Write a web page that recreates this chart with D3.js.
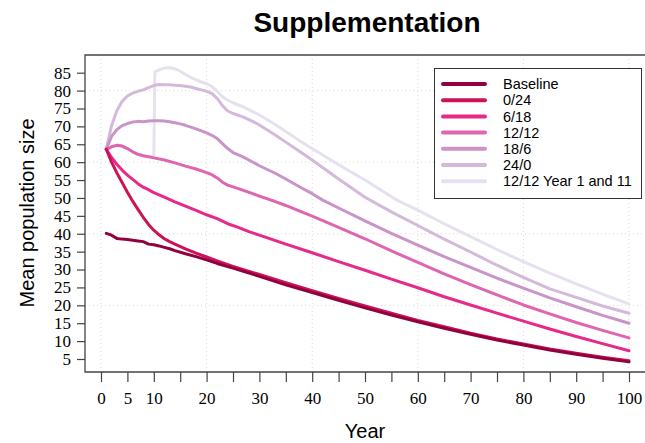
<!DOCTYPE html>
<html>
<head>
<meta charset="utf-8">
<script src="https://cdn.jsdelivr.net/npm/d3@7"></script>
<style>
  body { margin: 0; background: #fff; }
  svg text { fill: #000; }
  .tick-label { font-family: "Liberation Serif", "Times New Roman", serif; font-size: 17px; }
  .axis-title { font-family: "Liberation Sans", Arial, sans-serif; font-size: 20px; }
  .legend-text { font-family: "Liberation Sans", Arial, sans-serif; font-size: 14.5px; }
</style>
</head>
<body>
<div class="container"></div>
<script>
// series: [year, mean population size]
var baseline = [[1,40.1],[2,39.6],[3,38.7],[4,38.5],[5,38.4],[6,38.2],[7,38],[8,37.8],[9,37.1],[10,36.9],[11,36.6],[12,36.2],[13,35.8],[14,35.3],[16,34.4],[18,33.6],[20,32.7],[22,31.7],[25,30.4],[30,28.1],[35,25.7],[40,23.6],[45,21.4],[50,19.3],[55,17.3],[60,15.4],[65,13.6],[70,11.9],[75,10.3],[80,8.9],[85,7.5],[90,6.3],[95,5.2],[100,4.2]];
var s0_24 = [[1,63.6],[2,60],[3,57],[4,54.3],[5,51.6],[6,49.1],[7,46.8],[8,44.6],[9,42.6],[10,41],[11,39.7],[12,38.6],[13,37.8],[14,37.1],[16,35.8],[18,34.6],[20,33.5],[22,32.4],[25,30.9],[30,28.6],[35,26.3],[40,24.1],[45,21.9],[50,19.8],[55,17.8],[60,15.8],[65,14],[70,12.2],[75,10.6],[80,9.2],[85,7.8],[90,6.6],[95,5.5],[100,4.5]];
var s6_18 = [[1,63.6],[2,61.3],[3,59.4],[4,57.8],[5,56.4],[6,55.2],[7,54],[8,53],[9,52.3],[10,51.5],[12,50.2],[14,48.9],[16,47.7],[18,46.5],[20,45.3],[22,44.2],[24,42.8],[26,41.8],[28,40.6],[30,39.6],[35,37.1],[40,34.7],[45,32.2],[50,29.8],[55,27.3],[60,24.9],[65,22.4],[70,20.1],[75,17.8],[80,15.6],[85,13.4],[90,11.3],[95,9.3],[100,7.3]];
var s12_12 = [[1,63.6],[2,64.3],[3,64.7],[4,64.5],[5,63.8],[6,62.9],[7,62.2],[8,61.8],[9,61.5],[10,61.2],[12,60.6],[14,59.8],[16,58.9],[18,58.1],[20,57.1],[21,56.5],[22,55.6],[23,54.4],[24,53.6],[25,53.1],[27,52.1],[30,50.5],[33,49],[35,47.9],[38,46.1],[40,44.9],[45,41.8],[50,38.6],[55,35.2],[60,32],[65,28.8],[70,25.8],[75,22.9],[80,20.1],[85,17.6],[90,15.2],[95,13],[100,10.9]];
var s18_6 = [[1,63.6],[2,67.2],[3,69.1],[4,70.2],[5,70.8],[6,71.2],[7,71.4],[8,71.3],[9,71.5],[10,71.6],[11,71.6],[12,71.5],[13,71.3],[14,71],[15,70.7],[16,70.3],[18,69.3],[20,68.2],[21,67.5],[22,66.6],[23,65.2],[24,63.8],[25,62.7],[27,61.4],[30,59],[33,56.9],[35,55.3],[38,52.8],[40,51.2],[42,49.4],[45,47.2],[50,43.6],[55,40.1],[60,36.8],[65,33.6],[70,30.6],[75,27.6],[80,24.8],[85,22.1],[90,19.6],[95,17.2],[100,15]];
var s24_0 = [[1,63.6],[2,70.2],[3,74.4],[4,77],[5,78.5],[6,79.3],[7,79.8],[8,80.2],[9,80.8],[10,81.4],[11,81.7],[12,81.6],[13,81.6],[14,81.5],[15,81.4],[16,81.2],[17,81],[18,80.6],[19,80.2],[20,79.8],[21,79.2],[22,77.8],[23,75.8],[24,74.3],[25,73.6],[27,72.6],[29,71.2],[30,70.4],[33,67.6],[35,65.6],[38,62.6],[40,60.6],[45,55.3],[50,50.2],[55,46.1],[60,42.3],[65,38.5],[70,34.9],[75,31.2],[80,27.8],[85,24.6],[90,22.2],[95,19.8],[100,17.8]];
var s12_12y111 = [[1,63.6],[2,64.3],[3,64.7],[4,64.5],[5,63.8],[6,62.9],[7,62.2],[8,61.8],[9,61.6],[10,61.6],[10.2,85.2],[11,85.8],[12,86.3],[13,86.4],[14,86.1],[15,85.4],[16,84.5],[17,83.7],[18,83],[19,82.4],[20,81.9],[21,81.2],[22,79.8],[23,78.3],[24,77.3],[25,76.6],[27,75.4],[30,73.2],[33,70.5],[35,68.6],[38,65.6],[40,63.8],[45,59.3],[50,55],[56,49.4],[60,46.6],[65,42.8],[70,39.2],[75,35.6],[80,32.2],[85,29],[90,26],[95,23.1],[100,20.4]];

var seriesNames = ["Baseline", "0/24", "6/18", "12/12", "18/6", "24/0", "12/12 Year 1 and 11"];
var seriesValues = [baseline, s0_24, s6_18, s12_12, s18_6, s24_0, s12_12y111];
var seriesColors = ["#91003f", "#ce1256", "#e7298a", "#df65b0", "#c994c7", "#d4b9da", "#e7e1ef"];

var yTicks = d3.range(5, 90, 5);
var xTicks = d3.range(0, 105, 5);
var xLabels = [0, 5, 10, 20, 30, 40, 50, 60, 70, 80, 90, 100];
var gridX = [0, 20, 40, 60, 80, 100];
var gridY = [20, 40, 60, 80];

var width = 645, height = 443;
var box = {left: 85, top: 55, right: 645, bottom: 372};

var svg = d3.select(".container")
  .append("svg")
    .attr("width", width)
    .attr("height", height);

var x = d3.scaleLinear().domain([0, 100]).range([101, 629]);
var y = d3.scaleLinear().domain([5, 85]).range([359, 72.7]);

// faint dotted grid
svg.append("g").selectAll("line")
  .data(gridX).enter().append("line")
    .attr("x1", d => x(d)).attr("x2", d => x(d))
    .attr("y1", box.top).attr("y2", box.bottom)
    .attr("stroke", "#d8d8d8").attr("stroke-dasharray", "1,3");
svg.append("g").selectAll("line")
  .data(gridY).enter().append("line")
    .attr("x1", box.left).attr("x2", box.right)
    .attr("y1", d => y(d)).attr("y2", d => y(d))
    .attr("stroke", "#d8d8d8").attr("stroke-dasharray", "1,3");

// lines, lightest first so the darker ones sit on top
var line = d3.line()
  .x(function(d) { return x(d[0]); })
  .y(function(d) { return y(d[1]); });

for (var i = seriesValues.length - 1; i >= 0; i--) {
  svg.append("path")
    .datum(seriesValues[i])
    .attr("fill", "none")
    .attr("stroke", seriesColors[i])
    .attr("stroke-width", 3)
    .attr("stroke-linejoin", "round")
    .attr("stroke-linecap", "round")
    .attr("d", line);
}

// frame: left, top and bottom are visible, right side runs off the picture
svg.append("path")
  .attr("d", "M" + box.right + "," + box.top + "H" + box.left + "V" + box.bottom + "H" + box.right)
  .attr("fill", "none")
  .attr("stroke", "#444")
  .attr("stroke-width", 1.3);

// y axis
var yAxis = svg.append("g")
  .attr("transform", "translate(" + box.left + ",0)")
  .call(d3.axisLeft(y).tickValues(yTicks).tickSize(8).tickPadding(6));
yAxis.select(".domain").remove();
yAxis.selectAll(".tick line").attr("stroke", "#444").attr("stroke-width", 1.2);
yAxis.selectAll(".tick text").attr("class", "tick-label").attr("fill", "#000");

// x axis
var xAxis = svg.append("g")
  .attr("transform", "translate(0," + box.bottom + ")")
  .call(d3.axisBottom(x).tickValues(xTicks).tickSize(10).tickPadding(10)
    .tickFormat(function(d) { return xLabels.indexOf(d) >= 0 ? d : ""; }));
xAxis.select(".domain").remove();
xAxis.selectAll(".tick line").attr("stroke", "#444").attr("stroke-width", 1.2);
xAxis.selectAll(".tick text").attr("class", "tick-label").attr("fill", "#000");

// titles
svg.append("text")
  .attr("x", 367).attr("y", 32)
  .attr("text-anchor", "middle")
  .style("font-family", "'Liberation Sans', Arial, sans-serif")
  .style("font-weight", "bold")
  .style("font-size", "28px")
  .text("Supplementation");

svg.append("text")
  .attr("class", "axis-title")
  .attr("x", x(50)).attr("y", 438)
  .attr("text-anchor", "middle")
  .text("Year");

svg.append("text")
  .attr("class", "axis-title")
  .attr("transform", "translate(34,213) rotate(-90)")
  .attr("text-anchor", "middle")
  .text("Mean population size");

// legend
var legend = svg.append("g");
legend.append("rect")
  .attr("x", 434.5).attr("y", 68.5)
  .attr("width", 207).attr("height", 130)
  .attr("fill", "#fff")
  .attr("stroke", "#333")
  .attr("stroke-width", 1);

var rows = legend.selectAll("g.row")
  .data(seriesNames).enter().append("g")
    .attr("class", "row")
    .attr("transform", function(d, i) { return "translate(0," + (84 + i * 16.2) + ")"; });
rows.append("line")
  .attr("x1", 443).attr("x2", 485)
  .attr("stroke", function(d, i) { return seriesColors[i]; })
  .attr("stroke-width", 4)
  .attr("stroke-linecap", "round");
rows.append("text")
  .attr("class", "legend-text")
  .attr("x", 503).attr("dy", "0.36em")
  .text(function(d) { return d; });
</script>
</body>
</html>
